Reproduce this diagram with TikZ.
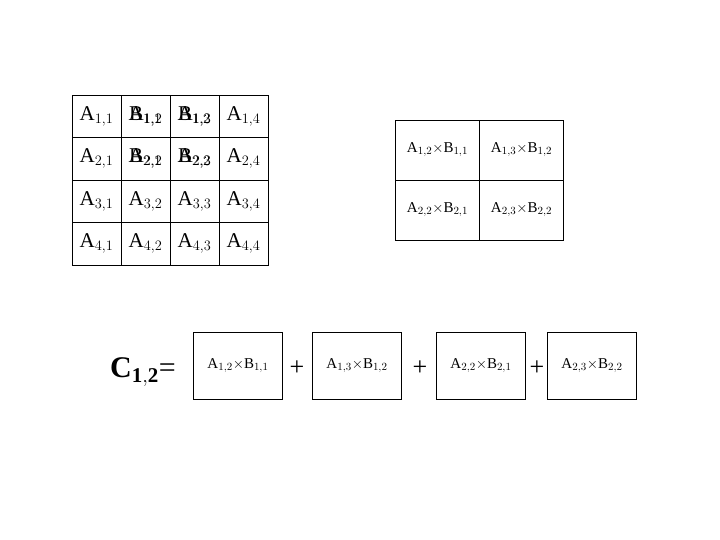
\documentclass[tikz,border=0pt]{standalone}
\usepackage{fontspec}
\setmainfont{Liberation Serif}
\begin{document}
\begin{tikzpicture}[x=1pt,y=-1pt,
  cell/.style={draw,line width=0.6pt,minimum width=49pt,minimum height=42.5pt,inner sep=0pt,font=\fontsize{21}{21}\selectfont},
  pcell/.style={draw,line width=0.6pt,minimum width=84pt,minimum height=60pt,inner sep=0pt,font=\fontsize{15}{15}\selectfont},
  pbox/.style={draw,line width=0.6pt,minimum width=89pt,minimum height=67pt,inner sep=0pt,font=\fontsize{15}{15}\selectfont},
  ov/.style={inner sep=0pt,font=\fontsize{21}{21}\selectfont},
  plus/.style={font=\fontsize{26}{26}\selectfont}]
\useasboundingbox (0,0) rectangle (720,540);
\foreach \r in {1,...,4}{\foreach \c in {1,...,4}{
  \pgfmathsetmacro{\xx}{72+49*(\c-1)+24.5}\pgfmathsetmacro{\yy}{95+42.5*(\r-1)+21.25}
  \node[cell] (g\r\c) at (\xx,\yy) {};}}
\foreach \r/\c in {1/1,1/4,2/1,2/4,3/1,3/2,3/3,3/4,4/1,4/2,4/3,4/4}{
  \node[ov] (t\r\c) at (g\r\c) {A$_{\r,\c}$};}
\node[ov] (a12) at (g12) {A$_{1,2}$}; \node[ov] (b11) at (g12) {B$_{1,1}$};
\node[ov] (a13) at (g13) {A$_{1,3}$}; \node[ov] (b12) at (g13) {B$_{1,2}$};
\node[ov] (a22) at (g22) {A$_{2,2}$}; \node[ov] (b21) at (g22) {B$_{2,1}$};
\node[ov] (a23) at (g23) {A$_{2,3}$}; \node[ov] (b22) at (g23) {B$_{2,2}$};
\node[pcell] (p1) at (437.5,150) {A$_{1,2}$$\times$B$_{1,1}$};
\node[pcell] (p2) at (521.5,150) {A$_{1,3}$$\times$B$_{1,2}$};
\node[pcell] (p3) at (437.5,210) {A$_{2,2}$$\times$B$_{2,1}$};
\node[pcell] (p4) at (521.5,210) {A$_{2,3}$$\times$B$_{2,2}$};
\node[font=\fontsize{30}{30}\selectfont\bfseries] (c) at (143,372) {C$_{\mathbf{1,2}}$\textmd{=}};
\node[pbox] (q1) at (238,366) {A$_{1,2}$$\times$B$_{1,1}$};
\node[plus] (s1) at (297,368) {+};
\node[pbox] (q2) at (357,366) {A$_{1,3}$$\times$B$_{1,2}$};
\node[plus] (s2) at (420,368) {+};
\node[pbox] (q3) at (481,366) {A$_{2,2}$$\times$B$_{2,1}$};
\node[plus] (s3) at (537,368) {+};
\node[pbox] (q4) at (592,366) {A$_{2,3}$$\times$B$_{2,2}$};
\end{tikzpicture}
\end{document}
